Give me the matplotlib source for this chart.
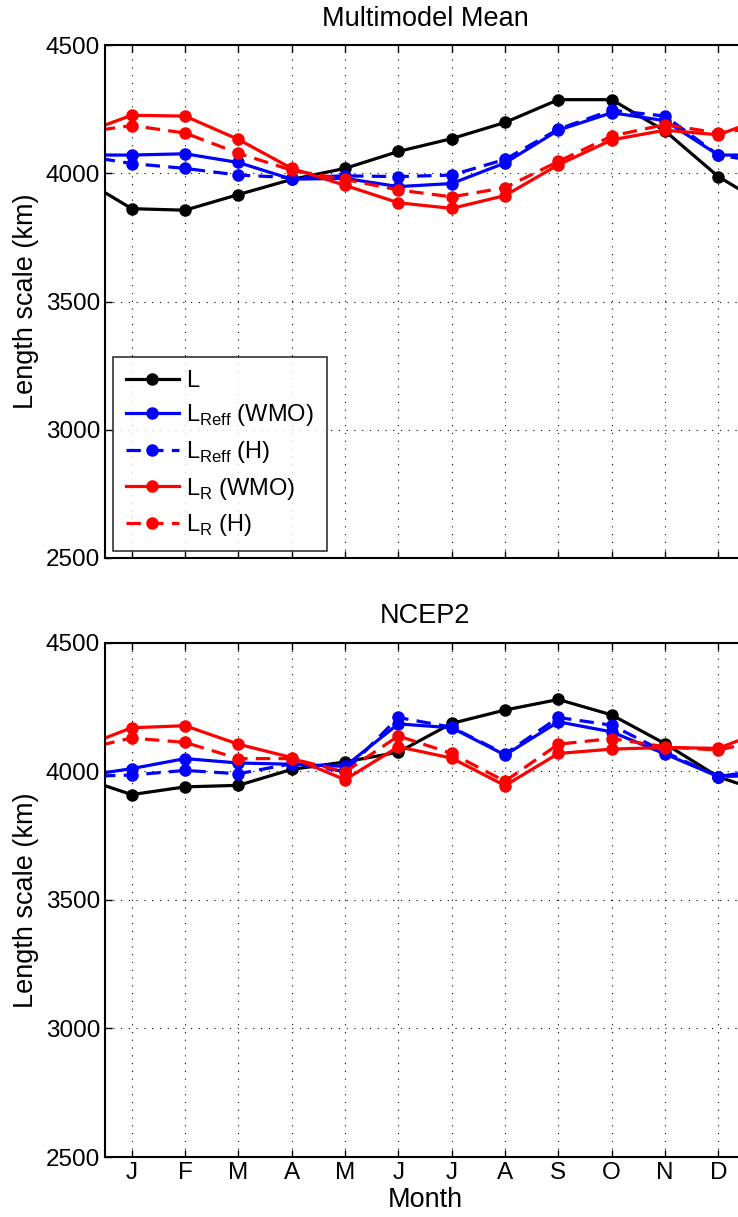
import numpy as np
import matplotlib
matplotlib.use("Agg")
import matplotlib.pyplot as plt

plt.rcParams['font.family'] = ['Liberation Sans', 'DejaVu Sans']
plt.rcParams['mathtext.fontset'] = 'custom'
plt.rcParams['mathtext.rm'] = 'Liberation Sans'

months = ['J', 'F', 'M', 'A', 'M', 'J', 'J', 'A', 'S', 'O', 'N', 'D']

# Multimodel mean length scales (km)
mm_L = [3862, 3856, 3917, 3976, 4019, 4085, 4135, 4198, 4287, 4287, 4165, 3987]
mm_Reff_wmo = [4071, 4076, 4042, 3977, 3980, 3948, 3960, 4040, 4168, 4236, 4205, 4071]
mm_Reff_h = [4038, 4019, 3993, 3983, 3990, 3987, 3993, 4054, 4172, 4246, 4223, 4071]
mm_R_wmo = [4226, 4223, 4132, 4019, 3953, 3885, 3863, 3913, 4033, 4130, 4168, 4150]
mm_R_h = [4186, 4157, 4078, 4012, 3976, 3935, 3908, 3944, 4046, 4145, 4190, 4157]

# NCEP2 reanalysis length scales (km)
nc_L = [3910, 3940, 3946, 4008, 4037, 4075, 4187, 4239, 4280, 4220, 4108, 3979]
nc_Reff_wmo = [4011, 4050, 4033, 4028, 4020, 4185, 4170, 4064, 4193, 4154, 4068, 3980]
nc_Reff_h = [3986, 4004, 3991, 4030, 4000, 4210, 4172, 4068, 4210, 4180, 4075, 3980]
nc_R_wmo = [4170, 4178, 4106, 4054, 3968, 4096, 4052, 3945, 4070, 4087, 4093, 4090]
nc_R_h = [4130, 4113, 4050, 4050, 3998, 4138, 4070, 3962, 4106, 4128, 4096, 4083]

labels = ['L', r'L$_\mathregular{Reff}$ (WMO)', r'L$_\mathregular{Reff}$ (H)',
          r'L$_\mathregular{R}$ (WMO)', r'L$_\mathregular{R}$ (H)']
colors = ['black', 'blue', 'blue', 'red', 'red']
styles = ['-', '-', '--', '-', '--']


def wrap(vals):
    # annual cycle: pad with December before and January after
    v = np.asarray(vals, dtype=float)
    return np.concatenate([[v[-1]], v, [v[0]]])


x = np.arange(0, 14)

fig = plt.figure(figsize=(7.38, 12.17), dpi=100)
ax1 = fig.add_axes([0.1423, 0.5415, 0.8672, 0.4215])
ax2 = fig.add_axes([0.1423, 0.0493, 0.8672, 0.4224])

panels = [
    (ax1, 'Multimodel Mean', [mm_L, mm_Reff_wmo, mm_Reff_h, mm_R_wmo, mm_R_h]),
    (ax2, 'NCEP2', [nc_L, nc_Reff_wmo, nc_Reff_h, nc_R_wmo, nc_R_h]),
]

for ax, title, series in panels:
    for vals, lab, c, ls in zip(series, labels, colors, styles):
        line, = ax.plot(x, wrap(vals), color=c, linestyle=ls, linewidth=2.3,
                        marker='o', markersize=7.5, markeredgewidth=1.5,
                        label=lab)
        if ls == '--':
            line.set_dashes((4.5, 2.6))
    ax.set_xlim(0.5, 12.5)
    ax.set_ylim(2500, 4500)
    ax.set_xticks(np.arange(1, 13))
    ax.set_yticks(np.arange(2500, 4501, 500))
    ax.grid(True, color='black', linestyle=(0, (1, 6)), linewidth=0.8)
    ax.tick_params(direction='in', length=5, width=1, top=True, right=True,
                   labelsize=17.5)
    for sp in ax.spines.values():
        sp.set_linewidth(1.5)
    ax.set_title(title, fontsize=19.5, pad=14)
    ax.set_ylabel('Length scale (km)', fontsize=19.5, labelpad=5)

ax1.set_xticklabels([])
ax2.set_xticklabels(months)
ax2.set_xlabel('Month', fontsize=19.5, labelpad=2)

leg = ax1.legend(loc='lower left', bbox_to_anchor=(0.012, 0.013), fontsize=17,
                 frameon=True, fancybox=False, handlelength=2.25,
                 handletextpad=0.3, labelspacing=0.45, borderpad=0.55,
                 borderaxespad=0)
leg.get_frame().set_edgecolor('black')
leg.get_frame().set_linewidth(1.2)

fig.savefig('out.png', dpi=100)
